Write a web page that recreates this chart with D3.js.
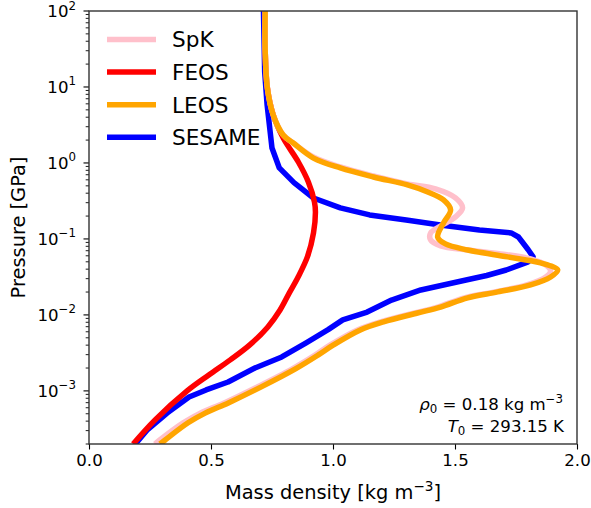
<!DOCTYPE html>
<html>
<head>
<meta charset="utf-8">
<script src="https://cdn.jsdelivr.net/npm/d3@7/dist/d3.min.js"></script>
<style>
  html, body { margin: 0; padding: 0; background: #fff; }
  svg text { font-family: "DejaVu Sans", sans-serif; fill: #000; }
</style>
</head>
<body>
<svg id="chart" width="591" height="508"></svg>
<script>
// Hugoniot-style curves: mass density [kg m^-3] vs pressure [GPa]
const seriesNames = ["SpK", "FEOS", "LEOS", "SESAME"];
const seriesColors = ["pink", "red", "orange", "blue"];
// drawing order (bottom to top) by series index
const drawOrder = [3, 1, 0, 2];

const spkRho = [0.27, 0.29, 0.386, 0.456, 0.554, 0.69, 0.833, 0.928, 0.989, 1.10, 1.195, 1.334, 1.429, 1.539, 1.663, 1.794, 1.872, 1.892, 1.872, 1.81, 1.687, 1.552, 1.441, 1.40, 1.40, 1.441, 1.502, 1.531, 1.502, 1.42, 1.305, 1.166, 1.03, 0.92, 0.837, 0.796, 0.755, 0.731, 0.722, 0.722];
const spkP   = [2.0e-4, 2.26e-4, 3.8e-4, 5.1e-4, 6.95e-4, 1.13e-3, 1.95e-3, 2.98e-3, 4.03e-3, 6.35e-3, 8.1e-3, 0.0106, 0.0127, 0.0168, 0.0201, 0.0248, 0.0316, 0.0379, 0.0455, 0.0546, 0.0636, 0.0716, 0.0809, 0.097, 0.12, 0.148, 0.195, 0.256, 0.346, 0.455, 0.53, 0.675, 0.886, 1.2, 1.83, 2.33, 4.28, 9.7, 30.7, 100];

const feosRho = [0.181, 0.271, 0.402, 0.491, 0.579, 0.659, 0.733, 0.783, 0.821, 0.857, 0.895, 0.92, 0.928, 0.924, 0.899, 0.858, 0.796, 0.755, 0.731, 0.722, 0.722];
const feosP   = [2.0e-4, 4.15e-4, 1.0e-3, 1.62e-3, 2.56e-3, 4.03e-3, 6.95e-3, 0.0116, 0.0195, 0.0316, 0.058, 0.12, 0.226, 0.307, 0.562, 1.03, 2.13, 4.28, 9.7, 30.7, 100];

const leosRho = [0.291, 0.312, 0.406, 0.476, 0.571, 0.706, 0.846, 0.94, 1.002, 1.112, 1.207, 1.346, 1.441, 1.552, 1.675, 1.81, 1.892, 1.921, 1.851, 1.716, 1.552, 1.461, 1.429, 1.453, 1.482, 1.453, 1.388, 1.305, 1.166, 1.03, 0.92, 0.837, 0.796, 0.755, 0.731, 0.722, 0.722];
const leosP   = [2.0e-4, 2.26e-4, 3.8e-4, 5.1e-4, 6.95e-4, 1.13e-3, 1.95e-3, 2.98e-3, 4.03e-3, 6.35e-3, 8.1e-3, 0.0106, 0.0127, 0.0168, 0.0201, 0.0248, 0.0316, 0.039, 0.0483, 0.058, 0.0716, 0.0859, 0.106, 0.163, 0.241, 0.326, 0.415, 0.514, 0.654, 0.859, 1.16, 1.83, 2.33, 4.28, 9.7, 30.7, 100];

const sesameRho = [0.19, 0.24, 0.32, 0.41, 0.48, 0.57, 0.68, 0.79, 0.89, 0.98, 1.04, 1.14, 1.24, 1.36, 1.55, 1.63, 1.71, 1.80, 1.82, 1.80, 1.76, 1.73, 1.60, 1.44, 1.30, 1.15, 1.03, 0.92, 0.84, 0.78, 0.75, 0.73, 0.72, 0.715];
const sesameP   = [2.0e-4, 3.1e-4, 5.1e-4, 8.3e-4, 1.03e-3, 1.31e-3, 2.0e-3, 2.8e-3, 4.3e-3, 6.4e-3, 8.6e-3, 0.0109, 0.0157, 0.0213, 0.029, 0.033, 0.039, 0.050, 0.058, 0.072, 0.106, 0.12, 0.131, 0.153, 0.178, 0.207, 0.256, 0.346, 0.55, 0.86, 1.57, 5.8, 15.7, 100];

const xTicks = [0.0, 0.5, 1.0, 1.5, 2.0];
const yTickExps = [-3, -2, -1, 0, 1, 2];

const rho0Text = "0.18";
const t0Text = "293.15";

const plotL = 89, plotR = 577, plotT = 11, plotB = 444;
const svg = d3.select("#chart");

const x = d3.scaleLinear().domain([0, 2]).range([plotL, plotR]);
const y = d3.scaleLog().domain([2e-4, 100]).range([plotB, plotT]);

svg.append("defs").append("clipPath").attr("id", "plotclip")
  .append("rect").attr("x", plotL).attr("y", plotT)
  .attr("width", plotR - plotL).attr("height", plotB - plotT);

// curves
const series = [
  { rho: spkRho, p: spkP, curve: d3.curveCatmullRom.alpha(0.5) },
  { rho: feosRho, p: feosP, curve: d3.curveCatmullRom.alpha(0.5) },
  { rho: leosRho, p: leosP, curve: d3.curveCatmullRom.alpha(0.5) },
  { rho: sesameRho, p: sesameP, curve: d3.curveLinear }
];
const g = svg.append("g").attr("clip-path", "url(#plotclip)");
drawOrder.forEach(i => {
  const s = series[i];
  const pts = s.rho.map((r, k) => [r, s.p[k]]);
  const line = d3.line().x(d => x(d[0])).y(d => y(d[1])).curve(s.curve);
  g.append("path").datum(pts)
    .attr("d", line)
    .attr("fill", "none")
    .attr("stroke", seriesColors[i])
    .attr("stroke-width", 5.5)
    .attr("stroke-linejoin", "round");
});

// x axis
const xAxis = d3.axisBottom(x).tickValues(xTicks).tickSize(5.5).tickPadding(5)
  .tickFormat(d3.format(".1f"));
const gx = svg.append("g").attr("transform", `translate(0,${plotB})`).call(xAxis);
gx.select(".domain").remove();
gx.selectAll("line").attr("stroke", "#000").attr("stroke-width", 1.1);
gx.selectAll("text").attr("font-size", 16.6).attr("font-family", "DejaVu Sans").attr("dy", "0.72em");

// y axis: major ticks at decades, minor ticks at 2..9
const yg = svg.append("g");
const minorVals = [];
for (let e = -4; e <= 1; e++) {
  for (let m = 2; m <= 9; m++) {
    const v = m * Math.pow(10, e);
    if (v >= 2e-4 && v <= 100) minorVals.push(v);
  }
}
yg.selectAll("line.minor").data(minorVals).enter().append("line")
  .attr("x1", plotL - 3.3).attr("x2", plotL)
  .attr("y1", d => y(d)).attr("y2", d => y(d))
  .attr("stroke", "#000").attr("stroke-width", 0.9);
yg.selectAll("line.major").data(yTickExps).enter().append("line")
  .attr("x1", plotL - 5.5).attr("x2", plotL)
  .attr("y1", d => y(Math.pow(10, d))).attr("y2", d => y(Math.pow(10, d)))
  .attr("stroke", "#000").attr("stroke-width", 1.1);
yTickExps.forEach(e => {
  const t = yg.append("text")
    .attr("x", plotL - 13).attr("y", y(Math.pow(10, e)) + 6)
    .attr("text-anchor", "end").attr("font-size", 16.6);
  t.append("tspan").text("10");
  t.append("tspan").attr("font-size", 11.8).attr("dy", -7.5)
    .text(e < 0 ? "\u2212" + Math.abs(e) : String(e));
});

// frame
svg.append("rect").attr("x", plotL).attr("y", plotT)
  .attr("width", plotR - plotL).attr("height", plotB - plotT)
  .attr("fill", "none").attr("stroke", "#333").attr("stroke-width", 1.4);

// axis labels
const xl = svg.append("text").attr("x", (plotL + plotR) / 2).attr("y", 499)
  .attr("text-anchor", "middle").attr("font-size", 19.4);
xl.append("tspan").text("Mass density [kg m");
xl.append("tspan").attr("font-size", 13.6).attr("dy", -8).text("\u22123");
xl.append("tspan").attr("dy", 8).text("]");

svg.append("text")
  .attr("transform", `translate(25,${(plotT + plotB) / 2}) rotate(-90)`)
  .attr("text-anchor", "middle").attr("font-size", 19.4)
  .text("Pressure [GPa]");

// legend
const legend = svg.append("g");
seriesNames.forEach((name, i) => {
  const cy = 39.5 + i * 32.6;
  legend.append("line").attr("x1", 107).attr("x2", 156)
    .attr("y1", cy).attr("y2", cy)
    .attr("stroke", seriesColors[i]).attr("stroke-width", 5.5);
  legend.append("text").attr("x", 172).attr("y", cy + 7.8)
    .attr("font-size", 21.6).text(name);
});

// reference state annotation
const a1 = svg.append("text").attr("x", 563).attr("y", 410)
  .attr("text-anchor", "end").attr("font-size", 16.6);
a1.append("tspan").attr("font-style", "italic").text("\u03c1");
a1.append("tspan").attr("font-size", 11.8).attr("dy", 3).text("0");
a1.append("tspan").attr("dy", -3).text(" = " + rho0Text + " kg m");
a1.append("tspan").attr("font-size", 11.8).attr("dy", -7).text("\u22123");

const a2 = svg.append("text").attr("x", 564).attr("y", 432)
  .attr("text-anchor", "end").attr("font-size", 16.6);
a2.append("tspan").attr("font-style", "italic").text("T");
a2.append("tspan").attr("font-size", 11.8).attr("dy", 3).text("0");
a2.append("tspan").attr("dy", -3).text(" = " + t0Text + " K");
</script>
</body>
</html>
